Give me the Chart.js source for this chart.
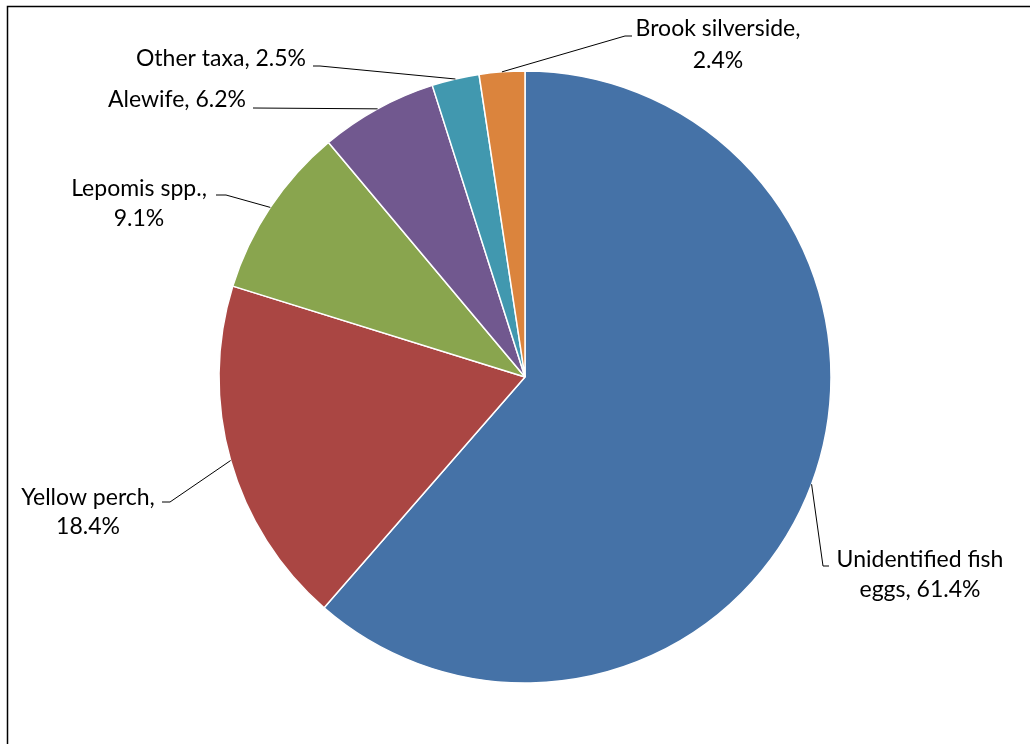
<!DOCTYPE html>
<html>
<head>
<meta charset="utf-8">
<script src="https://cdn.jsdelivr.net/npm/chart.js@4/dist/chart.umd.min.js"></script>
<style>
  html, body { margin: 0; padding: 0; background: #fff; }
  #wrap { position: relative; width: 1030px; height: 744px; }
</style>
</head>
<body>
<div id="wrap"><canvas id="c" width="1030" height="744"></canvas></div>
<script>
// ---- data ----
const categories = ["Unidentified fish eggs", "Yellow perch", "Lepomis spp.", "Alewife", "Other taxa", "Brook silverside"];
const values = [61.4, 18.4, 9.1, 6.2, 2.5, 2.4];
const colors = ["#4572A7", "#AA4643", "#89A54E", "#71588F", "#4198AF", "#DB843D"];
// number of words on the first label line (0 = single line)
const lineBreaks = [2, 2, 2, 0, 0, 2];

// ---- label layout (positions only) ----
const labelLayout = [
  { cx: 920, base: 567, lh: 30, path: [[823, 566], [829, 566]] },
  { cx: 88,  base: 505, lh: 29, path: [[170, 502], [162, 502]] },
  { cx: 139, base: 196, lh: 30, path: [[226, 195], [216, 195]] },
  { cx: 177, base: 107, lh: 30, path: [[253, 108]] },
  { cx: 221, base: 66,  lh: 30, path: [[320, 66], [313, 66]] },
  { cx: 718, base: 36,  lh: 32, path: [[625, 36], [632, 36]] }
];

const FONT = '23px Lato, "Open Sans", sans-serif';

const labelPlugin = {
  id: 'pieLabels',
  afterDatasetsDraw(chart) {
    const ctx = chart.ctx;
    const meta = chart.getDatasetMeta(0);
    ctx.save();
    meta.data.forEach((arc, i) => {
      const p = arc.getProps(['x', 'y', 'startAngle', 'endAngle', 'outerRadius'], true);
      const mid = (p.startAngle + p.endAngle) / 2;
      const ax = p.x + Math.cos(mid) * p.outerRadius;
      const ay = p.y + Math.sin(mid) * p.outerRadius;
      const L = labelLayout[i];
      ctx.beginPath();
      ctx.strokeStyle = '#000';
      ctx.lineWidth = 1;
      ctx.moveTo(ax, ay);
      L.path.forEach(pt => ctx.lineTo(pt[0], pt[1]));
      ctx.stroke();

      const text = `${categories[i]}, ${values[i].toFixed(1)}%`;
      const words = text.split(' ');
      const lines = lineBreaks[i] ? [words.slice(0, lineBreaks[i]).join(' '), words.slice(lineBreaks[i]).join(' ')] : [text];
      ctx.fillStyle = '#000';
      ctx.font = FONT;
      ctx.textAlign = 'center';
      ctx.textBaseline = 'alphabetic';
      lines.forEach((ln, k) => ctx.fillText(ln, L.cx, L.base + k * L.lh));
    });
    // frame
    ctx.beginPath();
    ctx.strokeStyle = '#000';
    ctx.lineWidth = 1.5;
    ctx.moveTo(7.5, 744);
    ctx.lineTo(7.5, 6.5);
    ctx.lineTo(1030, 6.5);
    ctx.stroke();
    ctx.restore();
  }
};

new Chart(document.getElementById('c'), {
  type: 'pie',
  data: {
    labels: categories,
    datasets: [{
      data: values,
      backgroundColor: colors,
      borderColor: '#ffffff',
      borderWidth: 1.5
    }]
  },
  options: {
    responsive: false,
    animation: false,
    radius: 306,
    layout: { padding: { left: 219, right: 199, top: 71, bottom: 61 } },
    plugins: { legend: { display: false }, tooltip: { enabled: false } }
  },
  plugins: [labelPlugin]
});
</script>
</body>
</html>
